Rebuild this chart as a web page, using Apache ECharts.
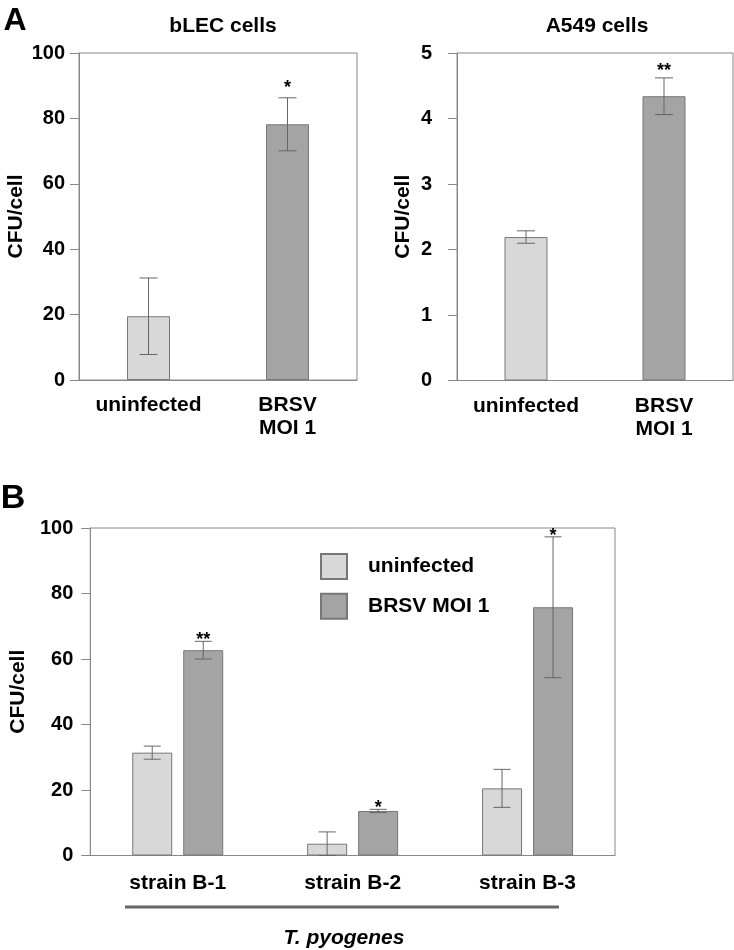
<!DOCTYPE html>
<html>
<head>
<meta charset="utf-8">
<script src="https://cdn.jsdelivr.net/npm/echarts@6/dist/echarts.min.js"></script>
<style>
  html, body { margin: 0; padding: 0; background: #fff; }
  #chart { width: 734px; height: 950px; }
</style>
</head>
<body>
<div id="chart"></div>
<script>
// panel A
var groupsA = ['uninfected', 'BRSV\nMOI 1'];
var blecMean = [19.5, 78.2];
var blecErr = [11.7, 8.1];
var blecSig = ['', '*'];
var a549Mean = [2.19, 4.34];
var a549Err = [0.095, 0.28];
var a549Sig = ['', '**'];

// panel B
var strains = ['strain B-1', 'strain B-2', 'strain B-3'];
var uninfMean = [31.4, 3.6, 20.5];
var uninfErr = [2.0, 3.6, 5.8];
var uninfSig = ['', '', ''];
var brsvMean = [62.7, 13.6, 75.8];
var brsvErr = [2.7, 0.5, 21.5];
var brsvSig = ['**', '*', '*'];

var LIGHT = '#d8d8d8';
var DARK = '#a4a4a4';
var EDGE = '#777';
var AXIS = '#888';
var FONT = '"Liberation Sans", Arial, Helvetica, sans-serif';

var chart = echarts.init(document.getElementById('chart'));

function yAxis(gi, max, step, labelMargin, nameGap) {
    return {
        type: 'value', gridIndex: gi, min: 0, max: max, interval: step,
        name: 'CFU/cell', nameLocation: 'middle', nameGap: nameGap,
        nameTextStyle: { fontFamily: FONT, fontSize: 21, fontWeight: 'bold', color: '#000' },
        axisLine: { show: true, lineStyle: { color: AXIS, width: 1 } },
        axisTick: { show: true, length: 9, lineStyle: { color: AXIS } },
        splitLine: { show: false },
        axisLabel: { margin: labelMargin, fontFamily: FONT, fontSize: 20, fontWeight: 'bold', color: '#000' }
    };
}

function xAxis(gi, cats, labelMargin) {
    return {
        type: 'category', gridIndex: gi, data: cats,
        axisLine: { show: true, lineStyle: { color: AXIS, width: 1 } },
        axisTick: { show: false },
        axisLabel: {
            interval: 0, margin: labelMargin, lineHeight: 23, verticalAlign: 'top',
            fontFamily: FONT, fontSize: 21, fontWeight: 'bold', color: '#000'
        }
    };
}

// error bar + significance stars
function errorRender(offset, capW, starGap, sig) {
    return function (params, api) {
        var i = api.value(0), m = api.value(1), e = api.value(2);
        var x = api.coord([i, 0])[0] + offset;
        var yHi = api.coord([i, m + e])[1];
        var yLo = api.coord([i, Math.max(0, m - e)])[1];
        var st = { stroke: '#666', lineWidth: 1 };
        var kids = [
            { type: 'line', shape: { x1: x, y1: yHi, x2: x, y2: yLo }, style: st },
            { type: 'line', shape: { x1: x - capW / 2, y1: yHi, x2: x + capW / 2, y2: yHi }, style: st },
            { type: 'line', shape: { x1: x - capW / 2, y1: yLo, x2: x + capW / 2, y2: yLo }, style: st }
        ];
        var s = sig[params.dataIndex];
        if (s) {
            kids.push({
                type: 'text',
                style: {
                    text: s, x: x, y: yHi - starGap + 5,
                    align: 'center', verticalAlign: 'middle',
                    font: 'bold 18px ' + FONT, fill: '#000'
                }
            });
        }
        return { type: 'group', children: kids };
    };
}

function errData(mean, err) {
    return mean.map(function (m, i) { return [i, m, err[i]]; });
}

function colored(vals) {
    return vals.map(function (v, i) {
        return { value: v, itemStyle: { color: i === 0 ? LIGHT : DARK } };
    });
}

var option = {
    backgroundColor: '#fff',
    animation: false,
    grid: [
        { left: 79, top: 53, width: 278, height: 327, show: true, borderColor: AXIS, borderWidth: 1 },
        { left: 457, top: 53, width: 276, height: 327.5, show: true, borderColor: AXIS, borderWidth: 1 },
        { left: 85, top: 528, width: 530, height: 327.5, show: true, borderColor: AXIS, borderWidth: 1 }
    ],
    xAxis: [
        xAxis(0, groupsA, 14),
        xAxis(1, groupsA, 14),
        xAxis(2, strains, 16)
    ],
    yAxis: [
        yAxis(0, 100, 20, 14, 52),
        yAxis(1, 5, 1, 25, 43),
        yAxis(2, 100, 20, 17, 54)
    ],
    legend: {
        data: ['uninfected', 'BRSV MOI 1'],
        orient: 'vertical', left: 320, top: 553, padding: 0,
        itemWidth: 26, itemHeight: 25, itemGap: 12.7, icon: 'rect',
        selectedMode: false,
        textStyle: { fontFamily: FONT, fontSize: 21, fontWeight: 'bold', color: '#000', padding: [0, 0, 0, 16] }
    },
    graphic: [
        { type: 'text', style: { text: 'A', x: 15, y: 21, align: 'center', verticalAlign: 'middle', font: 'bold 32px ' + FONT, fill: '#000' } },
        { type: 'text', style: { text: 'B', x: 13, y: 499, align: 'center', verticalAlign: 'middle', font: 'bold 34px ' + FONT, fill: '#000' } },
        { type: 'text', style: { text: 'bLEC cells', x: 223, y: 26, align: 'center', verticalAlign: 'middle', font: 'bold 21px ' + FONT, fill: '#000' } },
        { type: 'text', style: { text: 'A549 cells', x: 597, y: 26, align: 'center', verticalAlign: 'middle', font: 'bold 21px ' + FONT, fill: '#000' } },
        { type: 'line', shape: { x1: 125, y1: 907, x2: 559, y2: 907 }, style: { stroke: '#666', lineWidth: 3 } },
        { type: 'text', style: { text: 'T. pyogenes', x: 344, y: 938, align: 'center', verticalAlign: 'middle', font: 'italic bold 21px ' + FONT, fill: '#000' } }
    ],
    series: [
        {
            name: 'bLEC', type: 'bar', xAxisIndex: 0, yAxisIndex: 0, barWidth: 43,
            itemStyle: { borderColor: EDGE, borderWidth: 1 }, data: colored(blecMean)
        },
        {
            name: 'bLEC err', type: 'custom', xAxisIndex: 0, yAxisIndex: 0, z: 5,
            renderItem: errorRender(0, 18, 15, blecSig), data: errData(blecMean, blecErr)
        },
        {
            name: 'A549', type: 'bar', xAxisIndex: 1, yAxisIndex: 1, barWidth: 43,
            itemStyle: { borderColor: EDGE, borderWidth: 1 }, data: colored(a549Mean)
        },
        {
            name: 'A549 err', type: 'custom', xAxisIndex: 1, yAxisIndex: 1, z: 5,
            renderItem: errorRender(0, 18, 12, a549Sig), data: errData(a549Mean, a549Err)
        },
        {
            name: 'uninfected', type: 'bar', xAxisIndex: 2, yAxisIndex: 2, barWidth: 40, barGap: '27.5%',
            itemStyle: { color: LIGHT, borderColor: EDGE, borderWidth: 1 }, data: uninfMean
        },
        {
            name: 'BRSV MOI 1', type: 'bar', xAxisIndex: 2, yAxisIndex: 2, barWidth: 40, barGap: '27.5%',
            itemStyle: { color: DARK, borderColor: EDGE, borderWidth: 1 }, data: brsvMean
        },
        {
            name: 'uninfected err', type: 'custom', xAxisIndex: 2, yAxisIndex: 2, z: 5,
            renderItem: errorRender(-25.5, 17, 6, uninfSig), data: errData(uninfMean, uninfErr)
        },
        {
            name: 'BRSV err', type: 'custom', xAxisIndex: 2, yAxisIndex: 2, z: 5,
            renderItem: errorRender(25.5, 17, 6, brsvSig), data: errData(brsvMean, brsvErr)
        }
    ]
};

chart.setOption(option);
</script>
</body>
</html>
